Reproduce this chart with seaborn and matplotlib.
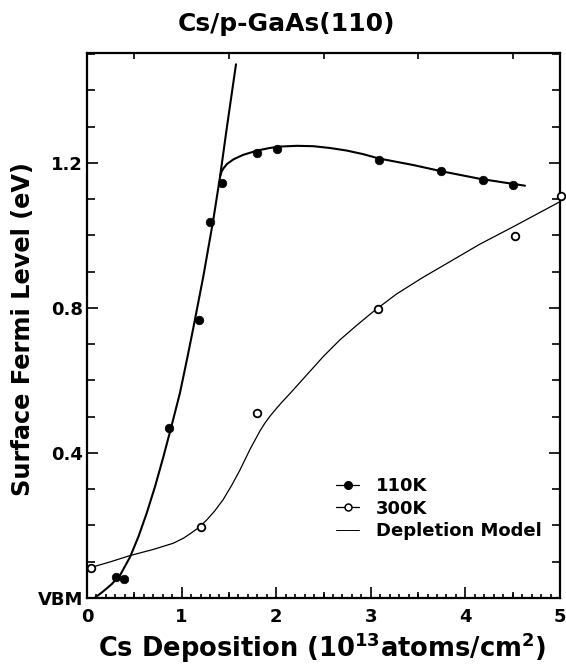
import numpy as np
import pandas as pd
import matplotlib
matplotlib.use("Agg")
import matplotlib.pyplot as plt
from matplotlib.lines import Line2D
from matplotlib.ticker import MultipleLocator, FixedLocator
import seaborn as sns

# ---------------- data ----------------
k110_x = [0.31, 0.39, 0.87, 1.18, 1.30, 1.43, 1.80, 2.01, 3.09, 3.74, 4.19, 4.50]
k110_y = [0.058, 0.052, 0.469, 0.768, 1.037, 1.145, 1.228, 1.238, 1.208, 1.178, 1.153, 1.139]

k300_x = [0.04, 1.20, 1.80, 3.08, 4.52, 5.01]
k300_y = [0.084, 0.196, 0.511, 0.797, 0.999, 1.109]

# steep (depletion) curve
dep_x = [0.08, 0.17, 0.26, 0.35, 0.455, 0.545, 0.631, 0.72, 0.807, 0.895,
         0.983, 1.06, 1.124, 1.229, 1.335, 1.406, 1.477, 1.575]
dep_y = [0.0, 0.018, 0.038, 0.063, 0.113, 0.170, 0.234, 0.308, 0.389, 0.476,
         0.566, 0.662, 0.745, 0.886, 1.043, 1.161, 1.295, 1.472]

# 110K plateau curve
pl_x = [1.406, 1.42, 1.44, 1.48, 1.55, 1.65, 1.80, 1.93, 2.04, 2.217, 2.392,
        2.569, 2.745, 2.92, 3.087, 3.45, 3.745, 4.154, 4.63]
pl_y = [1.162, 1.174, 1.184, 1.197, 1.210, 1.222, 1.234, 1.241, 1.245, 1.247,
        1.246, 1.241, 1.234, 1.224, 1.212, 1.194, 1.177, 1.156, 1.137]

# 300K curve
r_x = [0.04, 0.25, 0.455, 0.701, 0.912, 1.02, 1.089, 1.18, 1.265, 1.35,
       1.441, 1.53, 1.617, 1.723, 1.829, 1.88, 1.93, 1.99, 2.06, 2.146,
       2.322, 2.498, 2.674, 2.851, 3.027, 3.27, 3.55, 3.80, 4.154, 4.507, 5.0]
r_y = [0.084, 0.100, 0.117, 0.134, 0.151, 0.165, 0.177, 0.194, 0.215, 0.240,
       0.272, 0.311, 0.353, 0.410, 0.461, 0.482, 0.500, 0.519, 0.540, 0.564,
       0.615, 0.666, 0.712, 0.752, 0.790, 0.838, 0.884, 0.922, 0.976, 1.024,
       1.093]

x_ticks = [0, 1, 2, 3, 4, 5]
x_ticklabels = ["0", "1", "2", "3", "4", "5"]
y_ticks = [0.0, 0.4, 0.8, 1.2]
y_ticklabels = ["VBM", "0.4", "0.8", "1.2"]
legend_labels = ["110K", "300K", "Depletion Model"]

# ---------------- style ----------------
sns.set_theme(style="ticks")
plt.rcParams["font.family"] = ["DejaVu Sans"]
plt.rcParams["font.weight"] = "bold"
plt.rcParams["text.color"] = "black"
plt.rcParams["axes.labelcolor"] = "black"
plt.rcParams["xtick.color"] = "black"
plt.rcParams["ytick.color"] = "black"
plt.rcParams["mathtext.fontset"] = "custom"
plt.rcParams["mathtext.rm"] = "DejaVu Sans:bold"
plt.rcParams["mathtext.default"] = "rm"

fig = plt.figure(figsize=(5.66, 6.66), dpi=100)
ax = fig.add_axes([87 / 566, 1 - 598 / 666, 473 / 566, 545 / 666])

# curves
sns.lineplot(x=dep_x, y=dep_y, ax=ax, color="black", lw=1.5, sort=False,
             estimator=None)
sns.lineplot(x=pl_x, y=pl_y, ax=ax, color="black", lw=1.5, sort=False,
             estimator=None)
sns.lineplot(x=r_x, y=r_y, ax=ax, color="black", lw=0.9, sort=False,
             estimator=None)

# markers
sns.scatterplot(x=k110_x, y=k110_y, ax=ax, color="black", s=38,
                edgecolor="black", linewidth=0.5, zorder=5, clip_on=False)
sns.scatterplot(x=k300_x, y=k300_y, ax=ax, facecolor="white", s=30,
                edgecolor="black", linewidth=1.3, zorder=5, clip_on=False)

ax.set_xlim(0, 5)
ax.set_ylim(0, 1.503)

# ticks
ax.xaxis.set_major_locator(FixedLocator(x_ticks))
ax.set_xticklabels(x_ticklabels)
ax.xaxis.set_minor_locator(MultipleLocator(0.1))
ax.yaxis.set_major_locator(FixedLocator(y_ticks))
ax.set_yticklabels(y_ticklabels)
ax.yaxis.set_minor_locator(MultipleLocator(0.1))

ax.tick_params(axis="both", which="both", direction="in", top=True,
               right=True, color="black", width=1.2)
ax.tick_params(axis="x", which="major", length=8, pad=7, labelsize=13,
               labelcolor="black")
ax.tick_params(axis="x", which="minor", length=3)
ax.tick_params(axis="y", which="major", length=8, pad=3, labelsize=13,
               labelcolor="black")
ax.tick_params(axis="y", which="minor", length=5.5)
for lab in ax.get_xticklabels() + ax.get_yticklabels():
    lab.set_fontweight("bold")

# medium ticks at the half units
ax2 = ax.twiny()
ax2.set_xlim(ax.get_xlim())
ax2.xaxis.set_major_locator(FixedLocator([0.5, 1.5, 2.5, 3.5, 4.5]))
ax2.tick_params(axis="x", which="major", direction="in", top=True,
                bottom=True, labeltop=False, labelbottom=False, length=4.5,
                width=1.2, color="black")
ax2.xaxis.set_minor_locator(FixedLocator([]))
for sp in ax2.spines.values():
    sp.set_visible(False)

for sp in ax.spines.values():
    sp.set_linewidth(1.6)
    sp.set_color("black")

ax.set_xlabel(r"Cs Deposition (10$^{13}$atoms/cm$^{2}$)", fontsize=18.5,
              fontweight="bold", va="center", color="black")
ax.xaxis.set_label_coords(0.497, -0.092)
ax.set_ylabel("Surface Fermi Level (eV)", fontsize=17.3, fontweight="bold",
              va="center", color="black")
ax.yaxis.set_label_coords(-0.135, 0.494)

fig.text(0.507, 0.964, "Cs/p-GaAs(110)", ha="center", va="center",
         fontsize=18, fontweight="bold", color="black")

handles = [
    Line2D([], [], color="black", lw=0.9, marker="o", markersize=5.5,
           markerfacecolor="black", markeredgecolor="black"),
    Line2D([], [], color="black", lw=0.9, marker="o", markersize=5,
           markerfacecolor="white", markeredgecolor="black",
           markeredgewidth=1.1),
    Line2D([], [], color="black", lw=0.7),
]
leg = ax.legend(handles, legend_labels, loc="upper left",
                bbox_to_anchor=(0.526, 0.222), frameon=False, fontsize=13,
                handlelength=1.3, handletextpad=0.9, labelspacing=0.25,
                borderpad=0, borderaxespad=0)
for t in leg.get_texts():
    t.set_fontweight("bold")
    t.set_color("black")

fig.savefig("out.png", dpi=100)
